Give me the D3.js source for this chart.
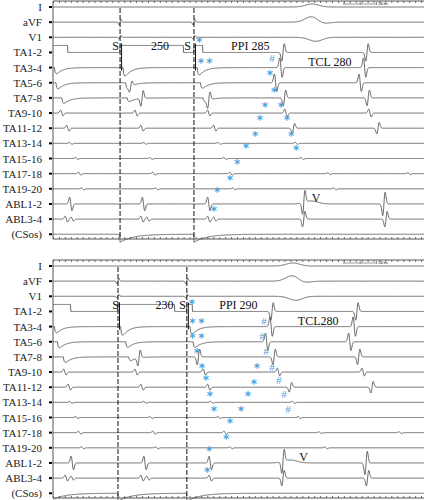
<!DOCTYPE html>
<html><head><meta charset="utf-8">
<script src="https://cdnjs.cloudflare.com/ajax/libs/d3/7.8.5/d3.min.js"></script>
<style>body{margin:0;background:#fff}</style></head>
<body><svg id="c" width="424" height="500"></svg>
<script>
const channels = ["I","aVF","V1","TA1-2","TA3-4","TA5-6","TA7-8","TA9-10","TA11-12","TA13-14","TA15-16","TA17-18","TA19-20","ABL1-2","ABL3-4","(CSos)"];
const stimTop = [226, 475];
const stimBot = [219, 451];
// events per channel: [time ms, kind, amplitude px, end ms]
const eventsTop = [
 [[873,'b',-3]],
 [[226,'p',3],[475,'p',3],[873,'b',-6],[905,'b',2]],
 [[226,'p',2],[475,'p',2],[885,'b',4]],
 [[0,'L',-7,50],[226,'L',-7,440],[475,'L',-7,505],[775,'s',9],[1058,'s',9]],
 [[5,'n',10],[236,'n',14],[486,'n',12],[768,'s',-10],[1050,'s',-10]],
 [[10,'n',10],[245,'n',9],[262,'s',5],[497,'n',9],[750,'s',-9],[1035,'s',-9]],
 [[30,'n',9],[250,'n',6],[300,'s',8],[505,'n',6],[525,'s',8],[780,'s',8],[1062,'s',8]],
 [[30,'s',-3],[280,'s',-3],[525,'s',-3],[785,'s',-4],[1068,'s',-4]],
 [[50,'s',-3],[300,'s',-3],[545,'s',-3],[810,'s',5],[1095,'s',6]],
 [[60,'s',-1],[310,'s',-1],[560,'s',-1],[820,'s',-1]],
 [[80,'s',-1],[330,'s',-1],[580,'s',-1],[840,'s',-1]],
 [[90,'s',-1.5],[340,'s',-1.5],[600,'s',-1.5],[930,'s',-1],[1200,'s',-1]],
 [[100,'s',-1],[350,'s',-1],[610,'s',-1],[950,'s',-1]],
 [[60,'s',-7],[305,'s',-7],[525,'s',-7],[845,'s',12],[870,'b',-3],[1115,'s',12]],
 [[45,'s',-3],[65,'s',-2],[300,'s',-3],[320,'s',-2],[525,'s',-3],[545,'s',-2],[845,'s',8],[1122,'s',8]],
 [[226,'cap',8],[475,'cap',8]]
];
const eventsBot = [
 [[808,'b',-3]],
 [[219,'p',3],[451,'p',3],[808,'b',-6],[840,'b',2]],
 [[219,'p',2],[451,'p',2],[818,'b',4]],
 [[0,'L',-7,60],[219,'L',-7,410],[451,'L',-7,470],[738,'s',9],[1024,'s',9]],
 [[5,'n',10],[228,'n',14],[462,'n',12],[735,'s',-10],[1015,'s',-10]],
 [[15,'n',10],[245,'n',9],[472,'n',9],[720,'s',-9],[1000,'s',-9]],
 [[35,'n',9],[255,'n',6],[290,'s',8],[490,'s',8],[745,'s',8],[1030,'s',8]],
 [[40,'s',-3],[280,'s',-3],[510,'s',-3],[760,'s',-4],[1045,'s',-4]],
 [[55,'s',-3],[300,'s',-3],[525,'s',-3],[800,'s',5],[1075,'s',6]],
 [[60,'s',-1],[310,'s',-1],[535,'s',-1],[810,'s',-1]],
 [[80,'s',-1],[330,'s',-1],[560,'s',-1],[830,'s',-1]],
 [[90,'s',-1.5],[340,'s',-1.5],[580,'s',-1.5],[900,'s',-1],[1170,'s',-1]],
 [[100,'s',-1],[350,'s',-1],[600,'s',-1],[920,'s',-1]],
 [[65,'s',-7],[310,'s',-7],[530,'s',-7],[775,'s',12],[800,'b',-3],[1055,'s',12]],
 [[45,'s',-3],[65,'s',-2],[300,'s',-3],[320,'s',-2],[530,'s',-3],[775,'s',8],[1060,'s',8]],
 [[0,'cap',6],[219,'cap',8],[451,'cap',8]]
];
const starsTop = [[492,2.2],[498,3.55],[527,3.55],[731,4.34],[745,5.5],[714,6.45],[768,6.45],[697,7.3],[788,7.3],[681,8.35],[802,8.35],[650,9.15],[819,9.28],[620,10.2],[596,11.3],[553,12.1],[542,13.35]];
const hashTop = [[738,3.35]];
const starsBot = [[468,2.38],[470,3.64],[500,3.64],[470,4.64],[500,4.64],[485,5.63],[502,6.62],[515,7.42],[529,8.48],[542,9.47],[687,6.62],[677,7.68],[657,8.48],[633,9.47],[596,10.26],[583,11.26],[526,12.1],[519,13.44]];
const hashBot = [[711,3.64],[704,4.64],[718,5.63],[738,6.69],[761,7.55],[778,8.48],[792,9.47]];
const textTop = [["S",200,3],["250",330,3],["S",442,3],["PPI 285",600,3],["TCL 280",860,4],["V",872,13]];
const textBot = [["S",200,3],["230",345,3],["S",425,3],["PPI 290",560,3],["TCL280",825,4],["V",830,13]];

const svg = d3.select("#c");
const blue = "#4aa3df";
function tmpl(kind, dt, a){
  if(kind==='s'){const w=4;return a*(-dt/w)*Math.exp(-dt*dt/(2*w*w))*1.6;}
  if(kind==='b'){const w=22;return a*Math.exp(-dt*dt/(2*w*w));}
  if(kind==='p'){const w=3;return a*(-dt/w)*Math.exp(-dt*dt/(2*w*w))*1.6;}
  if(kind==='n'){return dt<0?0:a*(Math.exp(-dt/20)-Math.exp(-dt/3));}
  if(kind==='cap'){return dt<0?0:a*Math.exp(-dt/45);}
  return 0;
}
function panel(top, stims, events, stars, hashes, texts){
  const x = d3.scaleLinear().domain([0,1250]).range([53,424]);
  const lane = d3.scaleLinear().domain([0,1]).range([top+7, top+7+15.15]);
  const g = svg.append("g");
  g.append("line").attr("x1",53).attr("x2",424).attr("y1",top+1).attr("y2",top+1).attr("stroke","#555");
  g.append("line").attr("x1",53).attr("x2",424).attr("y1",top+239).attr("y2",top+239).attr("stroke","#555");
  g.append("line").attr("x1",53).attr("x2",53).attr("y1",top+1).attr("y2",top+239).attr("stroke","#555");
  const ax = d3.axisBottom(x).ticks(50).tickSize(2).tickFormat("");
  g.append("g").attr("transform",`translate(0,${top+1})`).call(ax).call(s=>{s.select(".domain").remove();s.selectAll("line").attr("stroke","#666");});
  g.append("g").attr("transform",`translate(0,${top+237})`).call(ax).call(s=>{s.select(".domain").remove();s.selectAll("line").attr("stroke","#666");});
  g.append("path").attr("d",`M${x(980)},${top+4}H${x(1090)}M${x(980)},${top+2}V${top+5}M${x(1035)},${top+2}V${top+5}M${x(1090)},${top+2}V${top+5}`).attr("stroke","#555").attr("stroke-width",0.6).attr("fill","none");
  g.append("text").attr("x",x(1095)).attr("y",top+5).attr("font-size",3).attr("font-family","Liberation Sans").text("100 ms");
  channels.forEach((c,i)=>{
    const base = lane(i);
    g.append("text").attr("x",42).attr("y",base+4).attr("text-anchor","end").attr("font-family","Liberation Serif").attr("font-size",11).attr("fill","#222").text(c);
    g.append("path").attr("d",`M49,${base}h3`).attr("stroke","#000").attr("stroke-width",2);
    const ev = events[i];
    const pts = d3.range(0,1251,1).map(t=>{
      let v=0;
      ev.forEach(([t0,k,a,t1])=>{ if(k==='L'){ if(t>=t0&&t<t1) v+=a; } else v+=tmpl(k,t-t0,a); });
      return [x(t), base+v];
    });
    g.append("path").attr("d",d3.line()(pts)).attr("fill","none").attr("stroke","#444").attr("stroke-width",0.8);
  });
  stims.forEach(s=>{
    g.append("line").attr("x1",x(s)).attr("x2",x(s)).attr("y1",top+8).attr("y2",top+239).attr("stroke","#111").attr("stroke-width",1).attr("stroke-dasharray","5,2");
    g.append("line").attr("x1",x(s)+1.5).attr("x2",x(s)+1.5).attr("y1",lane(3)-9).attr("y2",lane(4)+3).attr("stroke","#111").attr("stroke-width",1);
  });
  texts.forEach(([t,ms,l])=>g.append("text").attr("x",x(ms)).attr("y",lane(l)-2).attr("font-family","Liberation Serif").attr("font-size",12).attr("fill","#111").text(t));
  stars.forEach(([ms,l])=>g.append("text").attr("x",x(ms)).attr("y",lane(l)+6).attr("text-anchor","middle").attr("font-size",12).attr("font-weight","bold").attr("font-family","DejaVu Sans").attr("fill",blue).text("*"));
  hashes.forEach(([ms,l])=>g.append("text").attr("x",x(ms)).attr("y",lane(l)+4).attr("text-anchor","middle").attr("font-size",11).attr("font-family","Liberation Serif").attr("fill",blue).text("#"));
}
panel(0, stimTop, eventsTop, starsTop, hashTop, textTop);
panel(259, stimBot, eventsBot, starsBot, hashBot, textBot);
</script></body></html>
